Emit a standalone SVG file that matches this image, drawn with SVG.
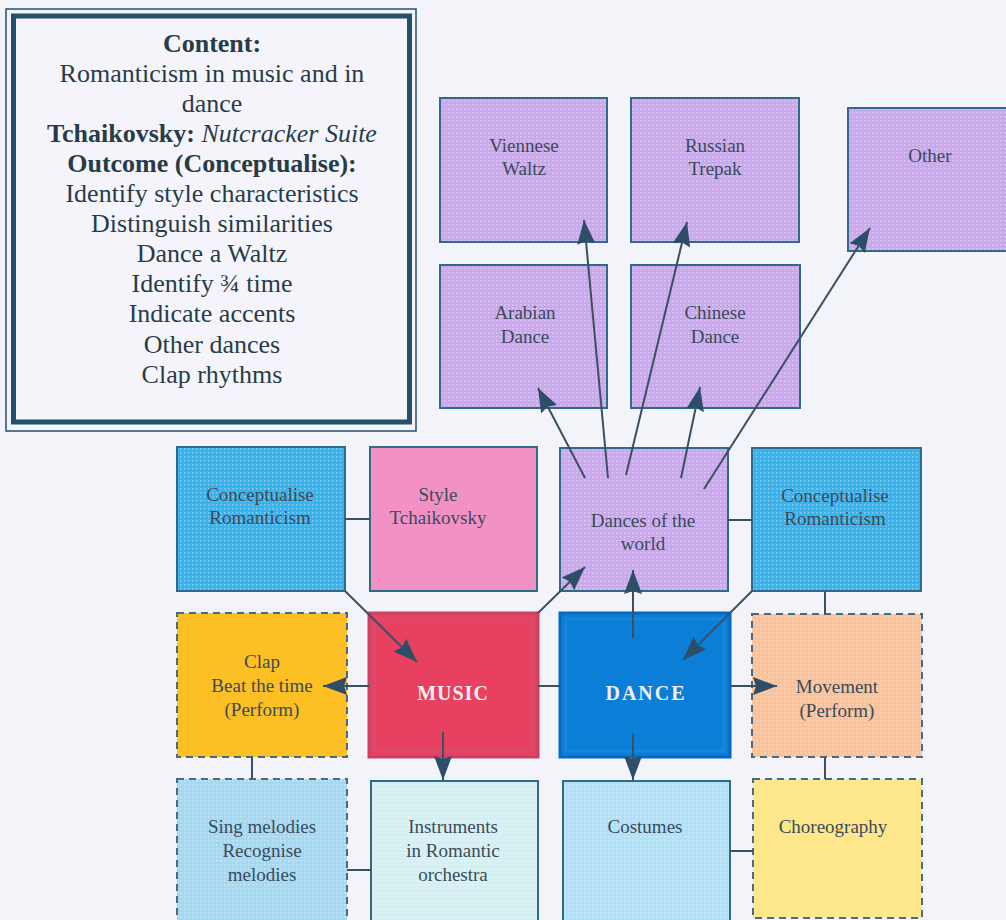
<svg xmlns="http://www.w3.org/2000/svg" width="1006" height="920" viewBox="0 0 1006 920" font-family="Liberation Serif, Times New Roman, serif">
  <defs>
    <style>
      .t { fill: #3b4b5b; text-anchor: middle; font-size: 19px; }
      .info { fill: #283c48; text-anchor: middle; font-size: 26px; }
      .b { font-weight: bold; }
      .i { font-style: italic; }
      .hub { fill: #f4eef2; text-anchor: middle; font-size: 20px; font-weight: bold; }
      .box { stroke: #2f6a88; stroke-width: 2; }
      .dash { stroke: #4a6a82; stroke-width: 2; stroke-dasharray: 7 5; }
      .tex { fill: url(#dots); stroke: none; }
      .ln { stroke: #3c5062; stroke-width: 2; fill: none; }
      .ar { stroke: #3c5062; stroke-width: 2; fill: none; marker-end: url(#head); }
    </style>
    <pattern id="dots" width="4" height="4" patternUnits="userSpaceOnUse">
      <rect x="0" y="0" width="1.5" height="1.5" fill="#ffffff" fill-opacity="0.35"/>
    </pattern>
    <marker id="head" markerUnits="userSpaceOnUse" markerWidth="26" markerHeight="20" refX="24" refY="9" orient="auto">
      <path d="M0,0 L24,9 L0,18 L3,9 z" fill="#2e4d66"/>
    </marker>
  </defs>

  <rect x="0" y="0" width="1006" height="920" fill="#f3f4f9"/>

  <!-- lesson summary panel -->
  <g id="summary">
    <rect x="6" y="9" width="410" height="422" fill="none" stroke="#25506a" stroke-width="1.5"/>
    <rect x="13.5" y="16" width="396" height="406" fill="#f4f4fa" stroke="#25506a" stroke-width="5"/>
    <text class="info b" x="212" y="52">Content:</text>
    <text class="info" x="212" y="82">Romanticism in music and in</text>
    <text class="info" x="212" y="112">dance</text>
    <text class="info" x="212" y="142"><tspan class="b">Tchaikovsky:</tspan> <tspan class="i">Nutcracker Suite</tspan></text>
    <text class="info b" x="212" y="172">Outcome (Conceptualise):</text>
    <text class="info" x="212" y="202">Identify style characteristics</text>
    <text class="info" x="212" y="232">Distinguish similarities</text>
    <text class="info" x="212" y="262">Dance a Waltz</text>
    <text class="info" x="212" y="292">Identify ¾ time</text>
    <text class="info" x="212" y="322">Indicate accents</text>
    <text class="info" x="212" y="353">Other dances</text>
    <text class="info" x="212" y="383">Clap rhythms</text>
  </g>

  <!-- dances of the world -->
  <g id="viennese">
    <rect class="box" x="440" y="98" width="167" height="144" fill="#c9a8ec"/>
    <rect class="tex" x="441" y="99" width="165" height="142"/>
    <text class="t" x="524" y="152">Viennese</text>
    <text class="t" x="524" y="175">Waltz</text>
  </g>
  <g id="russian">
    <rect class="box" x="631" y="98" width="168" height="144" fill="#c9a8ec"/>
    <rect class="tex" x="632" y="99" width="166" height="142"/>
    <text class="t" x="715" y="152">Russian</text>
    <text class="t" x="715" y="175">Trepak</text>
  </g>
  <g id="other">
    <rect class="box" x="848" y="108" width="170" height="143" fill="#c9a8ec"/>
    <rect class="tex" x="849" y="109" width="168" height="141"/>
    <text class="t" x="930" y="162">Other</text>
  </g>
  <g id="arabian">
    <rect class="box" x="440" y="265" width="167" height="143" fill="#c9a8ec"/>
    <rect class="tex" x="441" y="266" width="165" height="141"/>
    <text class="t" x="525" y="319">Arabian</text>
    <text class="t" x="525" y="343">Dance</text>
  </g>
  <g id="chinese">
    <rect class="box" x="631" y="265" width="169" height="143" fill="#c9a8ec"/>
    <rect class="tex" x="632" y="266" width="167" height="141"/>
    <text class="t" x="715" y="319">Chinese</text>
    <text class="t" x="715" y="343">Dance</text>
  </g>

  <!-- second row -->
  <g id="concept-music">
    <rect class="box" x="177" y="447" width="168" height="144" fill="#3cb2ea"/>
    <rect class="tex" x="178" y="448" width="166" height="142"/>
    <text class="t" x="260" y="501">Conceptualise</text>
    <text class="t" x="260" y="524">Romanticism</text>
  </g>
  <g id="style">
    <rect class="box" x="370" y="447" width="167" height="144" fill="#f291c4"/>
    <text class="t" x="438" y="501">Style</text>
    <text class="t" x="438" y="524">Tchaikovsky</text>
  </g>
  <g id="dances-world">
    <rect class="box" x="560" y="448" width="168" height="143" fill="#c9a8ec"/>
    <rect class="tex" x="561" y="449" width="166" height="141"/>
    <text class="t" x="643" y="527">Dances of the</text>
    <text class="t" x="643" y="550">world</text>
  </g>
  <g id="concept-dance">
    <rect class="box" x="752" y="448" width="169" height="143" fill="#3cb2ea"/>
    <rect class="tex" x="753" y="449" width="167" height="141"/>
    <text class="t" x="835" y="502">Conceptualise</text>
    <text class="t" x="835" y="525">Romanticism</text>
  </g>

  <!-- third row -->
  <g id="clap">
    <rect class="dash" x="177" y="613" width="170" height="144" fill="#fcc024"/>
    <text class="t" x="262" y="668">Clap</text>
    <text class="t" x="262" y="692">Beat the time</text>
    <text class="t" x="262" y="716">(Perform)</text>
  </g>
  <g id="music">
    <rect x="369" y="613" width="169" height="144" fill="#e8405f" stroke="#c74266" stroke-width="3"/>
    <rect x="375" y="619" width="157" height="132" fill="none" stroke="#d94a6c" stroke-width="3"/>
    <text class="hub" x="453" y="700" letter-spacing="1">MUSIC</text>
  </g>
  <g id="dance">
    <rect x="560" y="613" width="170" height="144" fill="#0b7fd8" stroke="#0768be" stroke-width="3"/>
    <rect x="566" y="619" width="158" height="132" fill="none" stroke="#1586dc" stroke-width="3"/>
    <text class="hub" x="646" y="700" letter-spacing="2">DANCE</text>
  </g>
  <g id="movement">
    <rect class="dash" x="752" y="614" width="170" height="143" fill="#f9c29a"/>
    <rect class="tex" x="753" y="615" width="168" height="141"/>
    <text class="t" x="837" y="693">Movement</text>
    <text class="t" x="837" y="717">(Perform)</text>
  </g>

  <!-- fourth row -->
  <g id="sing">
    <rect class="dash" x="177" y="779" width="170" height="150" fill="#a6d8f2"/>
    <rect class="tex" x="178" y="780" width="168" height="148"/>
    <text class="t" x="262" y="833">Sing melodies</text>
    <text class="t" x="262" y="857">Recognise</text>
    <text class="t" x="262" y="881">melodies</text>
  </g>
  <g id="instruments">
    <rect class="box" x="371" y="781" width="167" height="150" fill="#d4f0f2"/>
    <rect class="tex" x="372" y="782" width="165" height="148"/>
    <text class="t" x="453" y="833">Instruments</text>
    <text class="t" x="453" y="857">in Romantic</text>
    <text class="t" x="453" y="881">orchestra</text>
  </g>
  <g id="costumes">
    <rect class="box" x="563" y="781" width="167" height="150" fill="#b2e0f6"/>
    <rect class="tex" x="564" y="782" width="165" height="148"/>
    <text class="t" x="645" y="833">Costumes</text>
  </g>
  <g id="choreography">
    <rect class="dash" x="753" y="779" width="169" height="139" fill="#fde78a"/>
    <text class="t" x="833" y="833">Choreography</text>
  </g>

  <!-- connectors -->
  <g id="connectors">
    <line class="ln" x1="345" y1="519" x2="370" y2="519"/>
    <line class="ln" x1="728" y1="520" x2="752" y2="520"/>
    <line class="ln" x1="538" y1="686" x2="560" y2="686"/>
    <line class="ln" x1="825" y1="591" x2="825" y2="614"/>
    <line class="ln" x1="252" y1="757" x2="252" y2="779"/>
    <line class="ln" x1="825" y1="757" x2="825" y2="779"/>
    <line class="ln" x1="347" y1="870" x2="371" y2="870"/>
    <line class="ln" x1="730" y1="851" x2="753" y2="851"/>

    <line class="ar" x1="585" y1="478" x2="538" y2="388"/>
    <line class="ar" x1="608" y1="478" x2="584" y2="220"/>
    <line class="ar" x1="626" y1="475" x2="687" y2="222"/>
    <line class="ar" x1="681" y1="478" x2="700" y2="387"/>
    <line class="ar" x1="704" y1="489" x2="870" y2="228"/>

    <line class="ar" x1="345" y1="591" x2="417" y2="662"/>
    <line class="ar" x1="538" y1="613" x2="585" y2="567"/>
    <line class="ar" x1="633" y1="638" x2="633" y2="570"/>
    <line class="ar" x1="752" y1="591" x2="683" y2="660"/>

    <line class="ar" x1="369" y1="686" x2="323" y2="686"/>
    <line class="ar" x1="730" y1="686" x2="777" y2="686"/>
    <line class="ar" x1="443" y1="732" x2="443" y2="780"/>
    <line class="ar" x1="633" y1="733" x2="633" y2="780"/>
  </g>
</svg>
